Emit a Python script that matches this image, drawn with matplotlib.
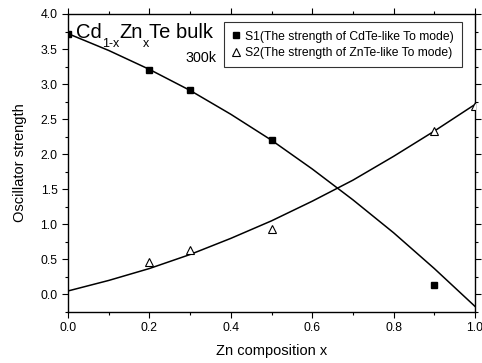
import matplotlib
matplotlib.use("Agg")
import matplotlib.pyplot as plt
from matplotlib.ticker import MultipleLocator, FormatStrFormatter
from matplotlib.transforms import offset_copy

plt.rcParams['font.family'] = ['Liberation Sans', 'DejaVu Sans']

# measured points
x_s1 = [0.0, 0.2, 0.3, 0.5, 0.9]
y_s1 = [3.72, 3.2, 2.91, 2.2, 0.14]
x_s2 = [0.2, 0.3, 0.5, 0.9, 1.0]
y_s2 = [0.46, 0.64, 0.94, 2.33, 2.69]

# fitted curves
x_fit = [0.0, 0.1, 0.2, 0.3, 0.4, 0.5, 0.6, 0.7, 0.8, 0.9, 1.0]
y_fit1 = [3.72, 3.48, 3.21, 2.91, 2.57, 2.20, 1.79, 1.35, 0.88, 0.37, -0.17]
y_fit2 = [0.05, 0.20, 0.37, 0.57, 0.80, 1.05, 1.33, 1.63, 1.97, 2.33, 2.71]

label1 = "S1(The strength of CdTe-like To mode)"
label2 = "S2(The strength of ZnTe-like To mode)"
title_parts = [("Cd", False), ("1-x", True), ("Zn", False), ("x", True), ("Te bulk", False)]
temp_label = "300k"

fig = plt.figure(figsize=(4.82, 3.63), dpi=100)
ax = fig.add_axes([68/482, 51/363, 407/482, 298/363])

ax.plot(x_fit, y_fit1, color='black', lw=1.1, zorder=2)
ax.plot(x_fit, y_fit2, color='black', lw=1.1, zorder=2)
ax.plot(x_s1, y_s1, 's', color='black', ms=5, ls='none', label=label1, zorder=3)
ax.plot(x_s2, y_s2, '^', mfc='white', mec='black', mew=0.8, ms=6, ls='none', label=label2, zorder=3)

ax.set_xlim(0, 1.0)
ax.set_ylim(-0.25, 4.0)
ax.xaxis.set_major_locator(MultipleLocator(0.2))
ax.xaxis.set_minor_locator(MultipleLocator(0.1))
ax.yaxis.set_major_locator(MultipleLocator(0.5))
ax.yaxis.set_minor_locator(MultipleLocator(0.25))
ax.tick_params(which='both', direction='out', top=True, right=True, labelsize=8.8, width=0.8, pad=3)
ax.tick_params(which='major', length=4.5)
ax.tick_params(which='minor', length=2.5)
for s in ax.spines.values():
    s.set_linewidth(1.0)
ax.xaxis.set_major_formatter(FormatStrFormatter('%.1f'))
ax.yaxis.set_major_formatter(FormatStrFormatter('%.1f'))

ax.set_xlabel("Zn composition x", fontsize=10.5, labelpad=7)
ax.set_ylabel("Oscillator strength", fontsize=10.5, labelpad=10)

# title with manual subscripts
renderer = fig.canvas.get_renderer()
x_pts = 0.0
for txt, sub in title_parts:
    if sub:
        t = ax.text(8/407, 0.919, txt, fontsize=9, va='baseline', ha='left',
                    transform=offset_copy(ax.transAxes, fig=fig, x=x_pts, y=-6.5, units='points'))
    else:
        t = ax.text(8/407, 0.919, txt, fontsize=14.5, va='baseline', ha='left',
                    transform=offset_copy(ax.transAxes, fig=fig, x=x_pts, y=0, units='points'))
    bb = t.get_window_extent(renderer)
    x_pts += bb.width * 72 / fig.dpi
ax.text(148/407, 0.839, temp_label, fontsize=10.3, va='baseline', ha='right', transform=ax.transAxes, zorder=6)

leg = ax.legend(loc='upper right', bbox_to_anchor=(0.968, 0.973), fontsize=8.7, frameon=True,
                fancybox=False, edgecolor='black', handlelength=0.6, handletextpad=0.45,
                borderpad=0.7, labelspacing=0.35, borderaxespad=0)
leg.get_frame().set_linewidth(0.8)

fig.savefig("out.png", dpi=100)
